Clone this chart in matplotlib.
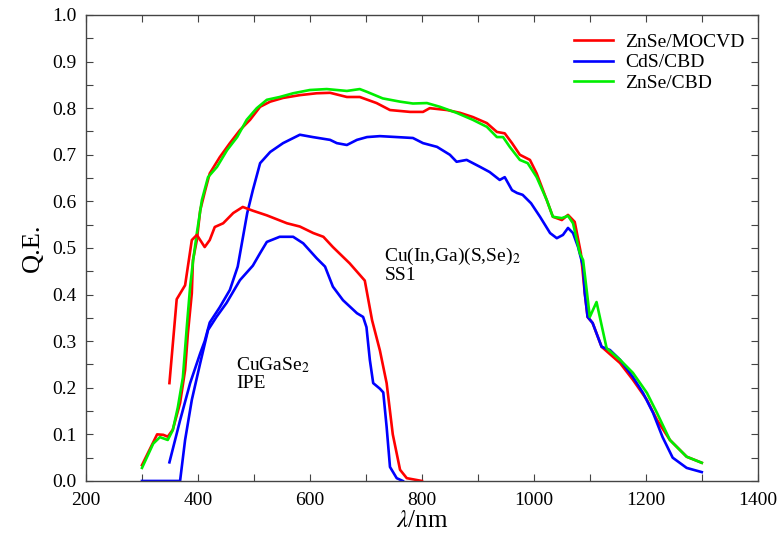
import numpy as np
import matplotlib.pyplot as plt
from matplotlib.ticker import MultipleLocator

plt.rcParams['font.family'] = ['Liberation Serif', 'DejaVu Serif']
plt.rcParams['mathtext.fontset'] = 'stix'

# Cu(In,Ga)(S,Se)2 SS1 absorber
ss1_red_x = [300, 327, 338, 346, 355, 368, 377, 382, 389, 391, 398, 404, 413, 421, 439, 457, 475, 493, 511, 529,
             552, 582, 612, 636, 666, 689, 719, 743, 779, 802, 814, 845, 868, 891, 916, 934, 948, 961, 975, 993,
             1005, 1023, 1034, 1050, 1061, 1073, 1084, 1091, 1096, 1105, 1121, 1154, 1177, 1202, 1220, 1243, 1273, 1300]
ss1_red_y = [0.034, 0.100, 0.099, 0.095, 0.110, 0.167, 0.238, 0.317, 0.403, 0.474, 0.517, 0.581, 0.624, 0.660, 0.695,
             0.725, 0.753, 0.775, 0.803, 0.814, 0.822, 0.828, 0.832, 0.833, 0.824, 0.824, 0.811, 0.796, 0.792, 0.792,
             0.800, 0.796, 0.790, 0.781, 0.768, 0.749, 0.746, 0.725, 0.700, 0.689, 0.660, 0.603, 0.567, 0.560, 0.571,
             0.556, 0.489, 0.403, 0.352, 0.339, 0.288, 0.253, 0.217, 0.174, 0.131, 0.088, 0.052, 0.039]

ss1_blue_x = [349, 368, 386, 404, 412, 421, 439, 457, 471, 488, 498, 511, 529, 552, 582, 605, 636, 648, 666, 684,
              702, 725, 755, 784, 802, 827, 850, 862, 880, 904, 921, 939, 948, 961, 970, 980, 995, 1011, 1029, 1041,
              1052, 1061, 1070, 1079, 1088, 1091, 1096, 1105, 1121, 1136, 1154, 1177, 1195, 1213, 1230, 1248, 1273, 1300]
ss1_blue_y = [0.040, 0.130, 0.210, 0.274, 0.300, 0.340, 0.373, 0.410, 0.460, 0.575, 0.624, 0.682, 0.706, 0.725,
              0.743, 0.738, 0.732, 0.725, 0.721, 0.732, 0.738, 0.740, 0.738, 0.736, 0.725, 0.717, 0.700, 0.685, 0.689,
              0.674, 0.663, 0.646, 0.652, 0.624, 0.618, 0.614, 0.596, 0.567, 0.532, 0.521, 0.528, 0.543, 0.532, 0.502,
              0.460, 0.403, 0.352, 0.339, 0.288, 0.281, 0.260, 0.223, 0.189, 0.146, 0.094, 0.050, 0.028, 0.019]

ss1_green_x = [300, 320, 332, 346, 355, 364, 373, 380, 386, 391, 398, 407, 418, 434, 452, 470, 487, 505, 523, 546,
               570, 600, 630, 666, 689, 702, 730, 761, 784, 809, 832, 862, 891, 916, 934, 945, 957, 975, 989, 1005,
               1023, 1034, 1050, 1061, 1070, 1082, 1088, 1095, 1100, 1112, 1130, 1154, 1177, 1202, 1220, 1243, 1273, 1300]
ss1_green_y = [0.028, 0.080, 0.094, 0.088, 0.109, 0.158, 0.222, 0.330, 0.417, 0.470, 0.532, 0.603, 0.652, 0.674,
               0.710, 0.738, 0.775, 0.800, 0.818, 0.824, 0.832, 0.839, 0.841, 0.837, 0.841, 0.835, 0.821, 0.814, 0.810,
               0.811, 0.803, 0.790, 0.775, 0.760, 0.738, 0.738, 0.717, 0.689, 0.682, 0.652, 0.603, 0.567, 0.564, 0.569,
               0.553, 0.489, 0.474, 0.403, 0.352, 0.384, 0.285, 0.260, 0.232, 0.189, 0.146, 0.088, 0.052, 0.039]

# CuGaSe2 IPE absorber
ipe_red_x = [349, 362, 377, 389, 398, 412, 421, 430, 445, 463, 480, 498, 523, 559, 582, 606, 624, 641, 671, 698,
             711, 725, 737, 748, 761, 773, 800]
ipe_red_y = [0.210, 0.390, 0.420, 0.517, 0.528, 0.502, 0.517, 0.545, 0.553, 0.575, 0.588, 0.580, 0.570, 0.553,
             0.546, 0.532, 0.524, 0.502, 0.467, 0.430, 0.345, 0.280, 0.210, 0.100, 0.024, 0.006, 0.000]

ipe_blue_x = [300, 368, 377, 389, 404, 418, 433, 451, 475, 498, 511, 523, 546, 570, 588, 612, 627, 641, 659, 684,
              695, 701, 707, 713, 725, 731, 737, 743, 755, 766]
ipe_blue_y = [0.000, 0.000, 0.088, 0.174, 0.253, 0.324, 0.352, 0.382, 0.431, 0.462, 0.489, 0.513, 0.524, 0.524,
              0.510, 0.478, 0.460, 0.417, 0.388, 0.360, 0.352, 0.330, 0.260, 0.210, 0.198, 0.190, 0.116, 0.030,
              0.006, 0.000]

fig = plt.figure(figsize=(7.82, 5.35), dpi=100)
ax = fig.add_axes([0.110, 0.101, 0.859, 0.871])

lw = 1.9
ax.plot(ss1_red_x, ss1_red_y, color='#ff0000', lw=lw, label='ZnSe/MOCVD')
ax.plot(ss1_blue_x, ss1_blue_y, color='#0000ff', lw=lw, label='CdS/CBD')
ax.plot(ss1_green_x, ss1_green_y, color='#00ee00', lw=lw, label='ZnSe/CBD')
ax.plot(ipe_red_x, ipe_red_y, color='#ff0000', lw=lw)
ax.plot(ipe_blue_x, ipe_blue_y, color='#0000ff', lw=lw)

ax.set_xlim(200, 1400)
ax.set_ylim(0, 1.0)
ax.xaxis.set_major_locator(MultipleLocator(200))
ax.xaxis.set_minor_locator(MultipleLocator(100))
ax.yaxis.set_major_locator(MultipleLocator(0.1))
ax.yaxis.set_minor_locator(MultipleLocator(0.05))
ax.yaxis.set_major_formatter(plt.FormatStrFormatter('%.1f'))
ax.tick_params(which='both', direction='in', top=True, right=True, labelsize=14, width=0.8, color='#444444')
ax.tick_params(which='both', length=5)
ax.tick_params(axis='x', pad=8)
ax.tick_params(axis='y', pad=7)
for s in ax.spines.values():
    s.set_color('#444444')
    s.set_linewidth(1.0)

ax.set_xlabel(r'$\lambda$/nm', fontsize=18, labelpad=1)
ax.set_ylabel('Q.E.', fontsize=19, labelpad=6)

ax.text(733, 0.505, 'Cu(In,Ga)(S,Se)$_2$\nSS1', fontsize=14, va='top', ha='left', linespacing=1.05)
ax.text(468, 0.27, 'CuGaSe$_2$\nIPE', fontsize=14, va='top', ha='left', linespacing=1.05)

ax.legend(loc='upper right', frameon=False, fontsize=14, handlelength=2.0,
          borderaxespad=0.3, labelspacing=0.15, handletextpad=0.6, bbox_to_anchor=(1.0, 0.99))

fig.savefig('out.png', dpi=100)
